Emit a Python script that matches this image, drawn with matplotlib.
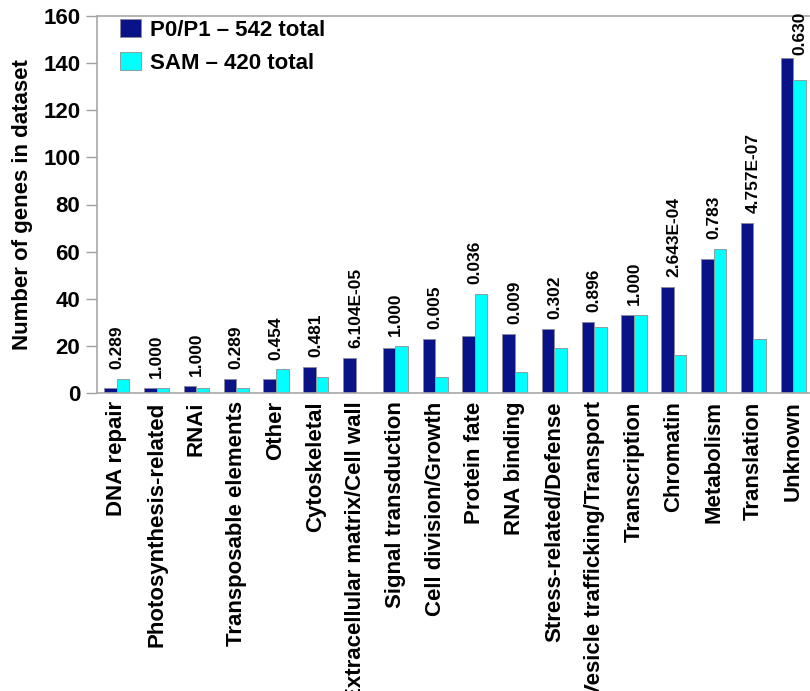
import numpy as np
import matplotlib.pyplot as plt

categories = ['DNA repair', 'Photosynthesis-related', 'RNAi', 'Transposable elements',
              'Other', 'Cytoskeletal', 'Extracellular matrix/Cell wall',
              'Signal transduction', 'Cell division/Growth', 'Protein fate',
              'RNA binding', 'Stress-related/Defense', 'Vesicle trafficking/Transport',
              'Transcription', 'Chromatin', 'Metabolism', 'Translation', 'Unknown']
p0p1 = [2, 2, 3, 6, 6, 11, 15, 19, 23, 24, 25, 27, 30, 33, 45, 57, 72, 142]
sam = [6, 2, 2, 2, 10, 7, 0, 20, 7, 42, 9, 19, 28, 33, 16, 61, 23, 133]
pvals = ['0.289', '1.000', '1.000', '0.289', '0.454', '0.481', '6.104E-05',
         '1.000', '0.005', '0.036', '0.009', '0.302', '0.896', '1.000',
         '2.643E-04', '0.783', '4.757E-07', '0.630']

plt.rcParams['font.family'] = ['Liberation Sans', 'DejaVu Sans']
plt.rcParams['font.weight'] = 'bold'

fig = plt.figure(figsize=(8.1, 6.91), dpi=100)
ax = fig.add_axes([97/810, 1 - 393/691, 716/810, 377/691])

x = np.arange(len(categories))
w = 0.315
ax.bar(x - w/2, p0p1, w, color='#0a1288', edgecolor='#8a8aa0', linewidth=0.7,
       label='P0/P1 \u2013 542 total')
ax.bar(x + w/2, sam, w, color='#00ffff', edgecolor='#8aa0a0', linewidth=0.7,
       label='SAM \u2013 420 total')

# p-value labels above each pair
for i in range(len(categories)):
    top = max(p0p1[i], sam[i])
    if i == len(categories) - 1:
        # no room above the tallest pair: put it over the SAM bar
        ax.text(x[i] + w/2, top + 1.3, pvals[i], rotation=90, ha='center', va='bottom',
                fontsize=12.5, fontweight='bold')
    else:
        ax.text(x[i], top + 4.2, pvals[i], rotation=90, ha='center', va='bottom',
                fontsize=12.5, fontweight='bold')

ax.set_xlim(-0.5, 17.5)
ax.set_ylim(0, 160)
ax.set_yticks(range(0, 161, 20))
ax.set_xticks(x)
ax.set_xticklabels(categories, rotation=90, fontsize=16, fontweight='bold')
ax.tick_params(axis='x', length=0, pad=6)
ax.tick_params(axis='y', length=8, width=1, color='#a0a0a0', labelsize=16, pad=4)
for s in ax.spines.values():
    s.set_color('#a8a8a8')
    s.set_linewidth(1.2)

ax.set_ylabel('Number of genes in dataset', fontsize=16, fontweight='bold')
ax.yaxis.set_label_coords(-0.09, 0.5)

ax.legend(loc='upper left', bbox_to_anchor=(120/810, 1 - 19/691),
          bbox_transform=fig.transFigure, frameon=False, fontsize=16,
          handlelength=0.95, handleheight=0.9, handletextpad=0.4,
          borderpad=0, borderaxespad=0, labelspacing=0.5)

fig.savefig('out.png', dpi=100)
